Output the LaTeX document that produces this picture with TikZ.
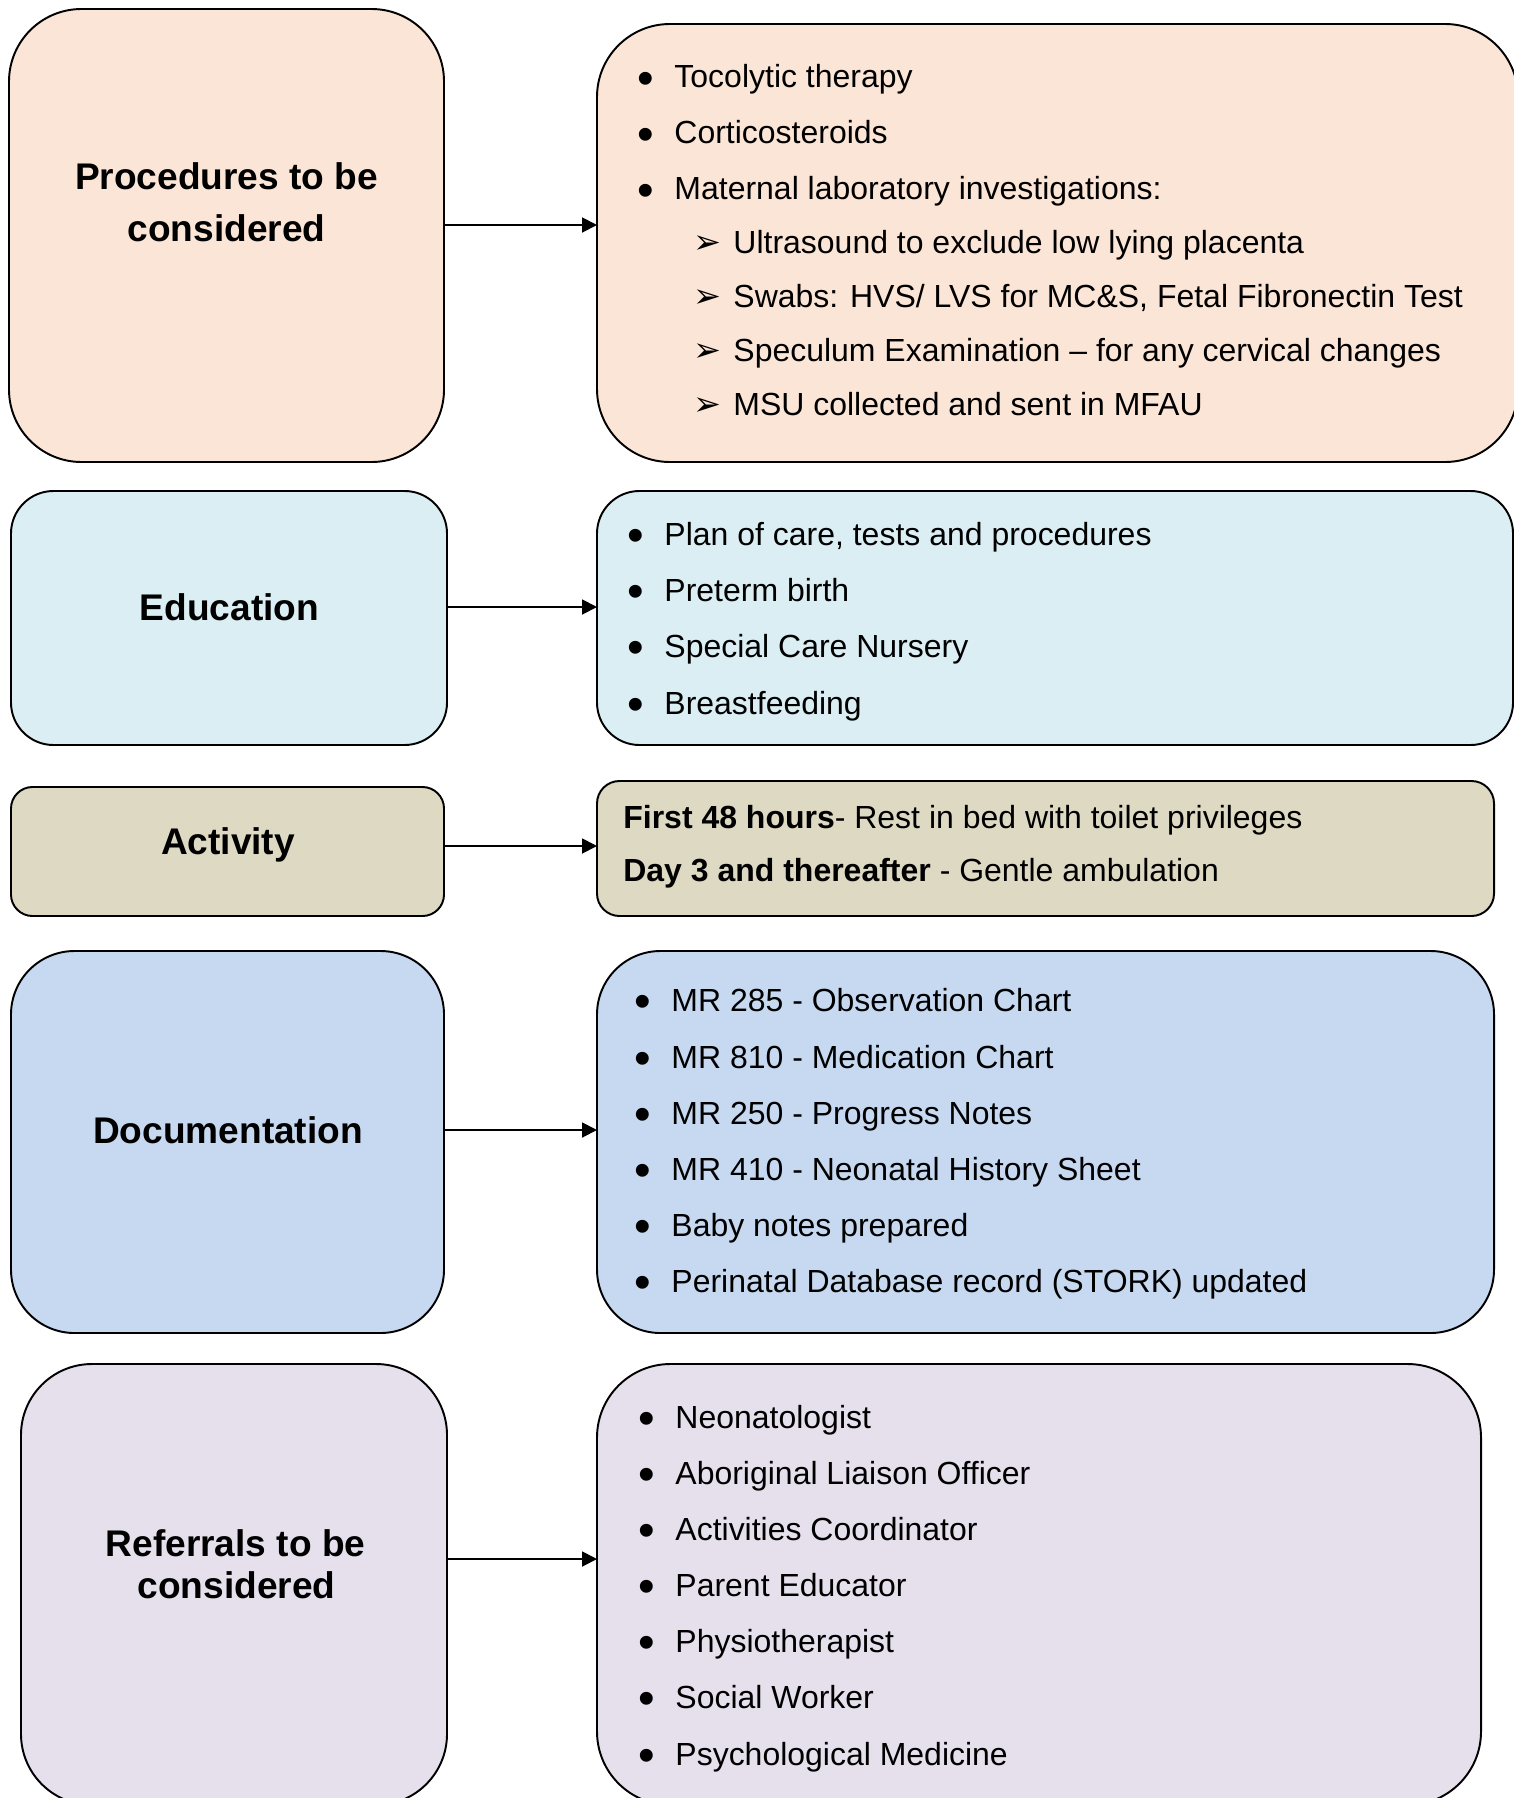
\documentclass[tikz,border=0pt]{standalone}
\usepackage{fontspec}
\setmainfont{Liberation Sans}
\newfontfamily\dejavu{DejaVu Sans}
\usetikzlibrary{arrows.meta}

\definecolor{procfill}{HTML}{FBE5D6}
\definecolor{edufill}{HTML}{DAEEF3}
\definecolor{actfill}{HTML}{DDD9C3}
\definecolor{docfill}{HTML}{C6D9F1}
\definecolor{reffill}{HTML}{E5E0EC}

\newcommand{\bul}{\makebox[21.1pt][l]{\raisebox{-3.8pt}{\fontsize{27}{27}\selectfont\textbullet}}}
\newcommand{\subarr}{\makebox[22.8pt][l]{{\dejavu\fontsize{19}{19}\selectfont ➢}}}

\begin{document}
\begin{tikzpicture}[x=0.2mm, y=-0.2mm,
   base_box_style/.style={draw=black, line width=1.1pt, inner sep=0pt, outer sep=0pt, anchor=north west},
   box_style/.style n args={4}{base_box_style, minimum width=#1, minimum height=#2, rounded corners=#3, fill=#4},
   label_style/.style={anchor=base, inner sep=0pt, font=\bfseries\fontsize{21.1}{25}\selectfont},
   item_style/.style={anchor=base west, inner sep=0pt, font=\fontsize{18.2}{22}\selectfont},
   edge_style/.style={-{Triangle[length=8.5pt,width=8.5pt]}, line width=1.1pt, draw=black}]

    \useasboundingbox (0,0) rectangle (1513,1798);

    % left column
    \node[box_style={8.70cm}{9.06cm}{1.45cm}{procfill}] (L1) at (9,9) {};
    \node[box_style={8.72cm}{5.08cm}{0.85cm}{edufill}] (L2) at (11,491) {};
    \node[box_style={8.66cm}{2.58cm}{0.43cm}{actfill}] (L3) at (11,787) {};
    \node[box_style={8.66cm}{7.64cm}{1.27cm}{docfill}] (L4) at (11,951) {};
    \node[box_style={8.52cm}{8.82cm}{1.42cm}{reffill}] (L5) at (21,1364) {};

    % right column
    \node[box_style={18.42cm}{8.76cm}{1.46cm}{procfill}] (R1) at (597,24) {};
    \node[box_style={18.32cm}{5.08cm}{0.85cm}{edufill}] (R2) at (597,491) {};
    \node[box_style={17.94cm}{2.70cm}{0.45cm}{actfill}] (R3) at (597,781) {};
    \node[box_style={17.94cm}{7.64cm}{1.27cm}{docfill}] (R4) at (597,951) {};
    \node[box_style={17.68cm}{8.82cm}{1.47cm}{reffill}] (R5) at (597,1364) {};

    % headings
    \node[label_style] (l1a) at (226.5,190) {Procedures to be};
    \node[label_style] (l1b) at (226.5,241.7) {considered};
    \node[label_style] (l2) at (229.5,620) {Education};
    \node[label_style] (l3) at (228,854) {Activity};
    \node[label_style] (l4) at (228,1143) {Documentation};
    \node[label_style] (l5a) at (235.5,1556) {Referrals to be};
    \node[label_style] (l5b) at (236.5,1598) {considered};

    % procedures
    \node[item_style] (p1) at (637,88) {\bul Tocolytic therapy};
    \node[item_style] (p2) at (637,144) {\bul Corticosteroids};
    \node[item_style] (p3) at (637,200) {\bul Maternal laboratory investigations:};
    \node[item_style] (p4) at (693,253) {\subarr Ultrasound to exclude low lying placenta};
    \node[item_style] (p5) at (693,307) {\subarr Swabs: HVS/ LVS for MC\&S, Fetal Fibronectin Test};
    \node[item_style] (p6) at (693,361) {\subarr Speculum Examination – for any cervical changes};
    \node[item_style] (p7) at (693,415) {\subarr MSU collected and sent in MFAU};

    % education
    \node[item_style] (e1) at (627,545) {\bul Plan of care, tests and procedures};
    \node[item_style] (e2) at (627,601) {\bul Preterm birth};
    \node[item_style] (e3) at (627,657) {\bul Special Care Nursery};
    \node[item_style] (e4) at (627,714) {\bul Breastfeeding};

    % activity
    \node[item_style] (a1) at (623,828) {\textbf{First 48 hours}- Rest in bed with toilet privileges};
    \node[item_style] (a2) at (623,881) {\textbf{Day 3 and thereafter} - Gentle ambulation};

    % documentation
    \node[item_style] (d1) at (634,1011) {\bul MR 285 - Observation Chart};
    \node[item_style] (d2) at (634,1068) {\bul MR 810 - Medication Chart};
    \node[item_style] (d3) at (634,1124) {\bul MR 250 - Progress Notes};
    \node[item_style] (d4) at (634,1180) {\bul MR 410 - Neonatal History Sheet};
    \node[item_style] (d5) at (634,1236) {\bul Baby notes prepared};
    \node[item_style] (d6) at (634,1292) {\bul Perinatal Database record (STORK) updated};

    % referrals
    \node[item_style] (r1) at (638,1428) {\bul Neonatologist};
    \node[item_style] (r2) at (638,1484) {\bul Aboriginal Liaison Officer};
    \node[item_style] (r3) at (638,1540) {\bul Activities Coordinator};
    \node[item_style] (r4) at (638,1596) {\bul Parent Educator};
    \node[item_style] (r5) at (638,1652) {\bul Physiotherapist};
    \node[item_style] (r6) at (638,1708) {\bul Social Worker};
    \node[item_style] (r7) at (638,1765) {\bul Psychological Medicine};

    \draw [edge_style]([yshift=0.21cm]L1.east) -- ([yshift=0.36cm]R1.west);
    \draw [edge_style]([yshift=0.22cm]L2.east) -- ([yshift=0.22cm]R2.west);
    \draw [edge_style]([yshift=0.11cm]L3.east) -- ([yshift=0.05cm]R3.west);
    \draw [edge_style]([yshift=0.24cm]L4.east) -- ([yshift=0.24cm]R4.west);
    \draw [edge_style]([yshift=0.51cm]L5.east) -- ([yshift=0.51cm]R5.west);
\end{tikzpicture}
\end{document}
